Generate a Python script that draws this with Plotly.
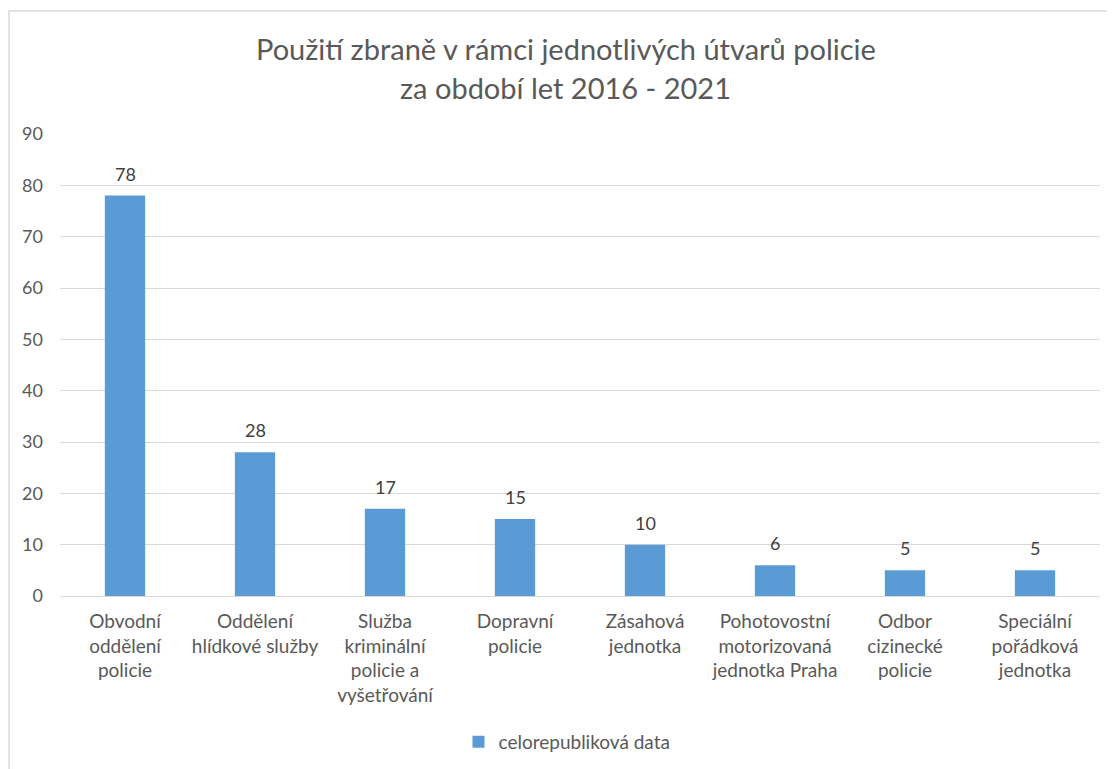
import plotly.graph_objects as go

categories = [
    "Obvodní<br>oddělení<br>policie",
    "Oddělení<br>hlídkové služby",
    "Služba<br>kriminální<br>policie a<br>vyšetřování",
    "Dopravní<br>policie",
    "Zásahová<br>jednotka",
    "Pohotovostní<br>motorizovaná<br>jednotka Praha",
    "Odbor<br>cizinecké<br>policie",
    "Speciální<br>pořádková<br>jednotka",
]
values = [78, 28, 17, 15, 10, 6, 5, 5]
series_name = "celorepubliková data"
title_lines = ["Použití zbraně v rámci jednotlivých útvarů policie", "za období let 2016 - 2021"]
y_ticks = [0, 10, 20, 30, 40, 50, 60, 70, 80, 90]

FONT = "Lato"
TXT = "#595959"

fig = go.Figure()
fig.add_trace(go.Bar(
    x=categories, y=values, name=series_name,
    marker=dict(color="#5B9BD5", line=dict(width=0)),
    showlegend=True,
))

for c, v in zip(categories, values):
    fig.add_annotation(x=c, y=v, text=str(v), xref="x", yref="y",
                       yanchor="bottom", yshift=9, showarrow=False,
                       font=dict(family=FONT, size=18, color="#404040"))

fig.update_layout(
    width=1115, height=769,
    margin=dict(l=52, r=23, t=126, b=181),
    paper_bgcolor="white", plot_bgcolor="white",
    font=dict(family=FONT, size=18, color=TXT),
    bargap=0.69,
    showlegend=True,
    legend=dict(orientation="h", x=0.4875, xanchor="center", y=-0.316, yanchor="middle",
                font=dict(family=FONT, size=19, color=TXT), itemwidth=30),
    xaxis=dict(showgrid=False, showline=True, linecolor="#d9d9d9", linewidth=1,
               ticks="", tickfont=dict(family=FONT, size=19, color=TXT),
               ticklabelstandoff=8, tickangle=0),
    yaxis=dict(range=[0, 90], tickvals=y_ticks, showgrid=True, gridcolor="#d9d9d9",
               gridwidth=1, zeroline=False, showline=False, ticks="",
               tickfont=dict(family=FONT, size=18, color=TXT),
               ticklabelstandoff=16),
)

fig.add_annotation(text=title_lines[0], xref="paper", yref="paper", x=0.4865, y=1.186,
                   xanchor="center", yanchor="middle", showarrow=False,
                   font=dict(family=FONT, size=29, color=TXT))
fig.add_annotation(text=title_lines[1], xref="paper", yref="paper", x=0.4865, y=1.0996,
                   xanchor="center", yanchor="middle", showarrow=False,
                   font=dict(family=FONT, size=29, color=TXT))

fig.add_shape(type="rect", xref="paper", yref="paper", x0=-0.049, x1=1.2, y0=-0.6, y1=1.266,
              line=dict(color="#d9d9d9", width=1.5), fillcolor="rgba(0,0,0,0)", layer="below")

fig.write_html("out.html")
